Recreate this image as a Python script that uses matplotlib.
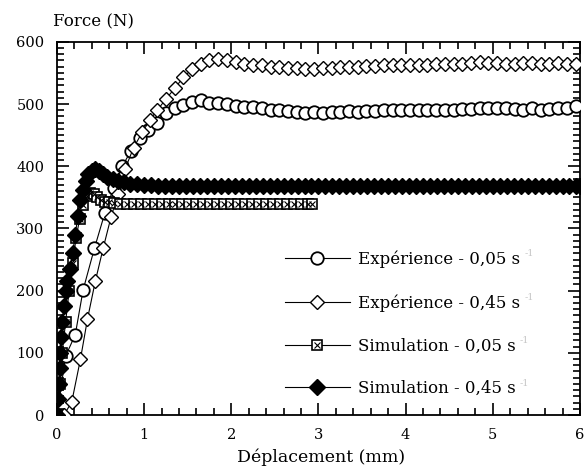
import numpy as np
import matplotlib
matplotlib.use("Agg")
from matplotlib import pyplot as plt
from matplotlib.legend_handler import HandlerTuple
from matplotlib.ticker import MultipleLocator

plt.rcParams['font.family'] = ['DejaVu Serif']

# Experience - 0,05 s-1 (open circles)
exp05_x = [0.0, 0.1, 0.21, 0.3, 0.43, 0.55, 0.65, 0.75, 0.85, 0.95, 1.05, 1.15,
           1.25, 1.35, 1.45, 1.55, 1.65, 1.75, 1.85, 1.95, 2.05, 2.15, 2.25,
           2.35, 2.45, 2.55, 2.65, 2.75, 2.85, 2.95, 3.05, 3.15, 3.25, 3.35,
           3.45, 3.55, 3.65, 3.75, 3.85, 3.95, 4.05, 4.15, 4.25, 4.35, 4.45,
           4.55, 4.65, 4.75, 4.85, 4.95, 5.05, 5.15, 5.25, 5.35, 5.45, 5.55,
           5.65, 5.75, 5.85, 5.95]
exp05_y = [0, 95, 129, 201, 268, 325, 365, 400, 425, 445, 458, 470,
           485, 493, 498, 503, 506, 502, 501, 500, 497, 496, 495,
           493, 491, 490, 489, 487, 486, 487, 486, 487, 487, 488,
           487, 488, 489, 490, 490, 490, 490, 491, 490, 491, 491,
           490, 492, 492, 494, 493, 493, 494, 492, 491, 493, 491,
           492, 494, 494, 497]

# Experience - 0,45 s-1 (open diamonds)
exp45_x = [0.08, 0.17, 0.27, 0.35, 0.44, 0.53, 0.62, 0.7, 0.78, 0.88, 0.98,
           1.07, 1.15, 1.25, 1.35, 1.45, 1.55, 1.65, 1.75, 1.85, 1.95, 2.05,
           2.15, 2.25, 2.35, 2.45, 2.55, 2.65, 2.75, 2.85, 2.95, 3.05, 3.15,
           3.25, 3.35, 3.45, 3.55, 3.65, 3.75, 3.85, 3.95, 4.05, 4.15, 4.25,
           4.35, 4.45, 4.55, 4.65, 4.75, 4.85, 4.95, 5.05, 5.15, 5.25, 5.35,
           5.45, 5.55, 5.65, 5.75, 5.85, 5.95]
exp45_y = [0, 21, 90, 154, 215, 268, 318, 355, 395, 430, 455,
           475, 490, 508, 525, 543, 556, 565, 571, 573, 570, 567,
           565, 563, 562, 560, 559, 558, 558, 557, 557, 558, 558,
           559, 560, 560, 561, 561, 562, 562, 562, 563, 563, 563,
           564, 564, 565, 565, 566, 567, 566, 566, 565, 565, 566,
           566, 565, 565, 566, 565, 564]

# Simulation - 0,05 s-1 (crossed squares)
sim05_x = [0.0, 0.03, 0.06, 0.1, 0.14, 0.18, 0.22, 0.26, 0.3, 0.34, 0.38,
           0.42, 0.46, 0.5, 0.55, 0.6, 0.65, 0.72, 0.8, 0.88, 0.96, 1.04,
           1.12, 1.2, 1.28, 1.36, 1.44, 1.52, 1.6, 1.68, 1.76, 1.84, 1.92,
           2.0, 2.08, 2.16, 2.24, 2.32, 2.4, 2.48, 2.56, 2.64, 2.72, 2.8,
           2.88, 2.93]
sim05_y = [0, 50, 100, 150, 200, 245, 285, 315, 338, 352, 357,
           355, 350, 345, 343, 342, 341, 340, 340, 340, 340, 340,
           340, 340, 340, 340, 340, 340, 340, 340, 340, 340, 340,
           340, 340, 340, 340, 340, 340, 340, 340, 340, 340, 340,
           340, 340]

# Simulation - 0,45 s-1 (filled diamonds)
sim45_x = [0.0, 0.01, 0.02, 0.03, 0.04, 0.05, 0.06, 0.08, 0.1, 0.12, 0.15,
           0.18, 0.21, 0.24, 0.27, 0.3, 0.33, 0.36, 0.4, 0.44, 0.48, 0.53,
           0.58, 0.64, 0.7, 0.77, 0.84, 0.92, 1.0, 1.08, 1.16, 1.24, 1.32,
           1.4, 1.48, 1.56, 1.64, 1.72, 1.8, 1.88, 1.96, 2.04, 2.12, 2.2,
           2.28, 2.36, 2.44, 2.52, 2.6, 2.68, 2.76, 2.84, 2.92, 3.0, 3.08,
           3.16, 3.24, 3.32, 3.4, 3.48, 3.56, 3.64, 3.72, 3.8, 3.88, 3.96,
           4.04, 4.12, 4.2, 4.28, 4.36, 4.44, 4.52, 4.6, 4.68, 4.76, 4.84,
           4.92, 5.0, 5.08, 5.16, 5.24, 5.32, 5.4, 5.48, 5.56, 5.64, 5.72,
           5.8, 5.88, 5.96, 6.0]
sim45_y = [0, 25, 50, 75, 100, 125, 150, 175, 200, 215, 235,
           260, 290, 320, 345, 362, 377, 387, 393, 395, 392, 388,
           383, 379, 376, 374, 372, 371, 370, 370, 369, 369, 369,
           369, 369, 369, 369, 369, 369, 369, 369, 369, 369, 369,
           369, 369, 369, 369, 369, 369, 369, 369, 369, 369, 369,
           369, 369, 369, 369, 369, 369, 369, 369, 369, 369, 369,
           369, 369, 369, 369, 369, 369, 369, 369, 369, 369, 369,
           369, 369, 369, 369, 369, 369, 369, 369, 369, 369, 369,
           369, 369, 369, 369]

labels = ['Expérience - 0,05 s', 'Expérience - 0,45 s',
          'Simulation - 0,05 s', 'Simulation - 0,45 s']

fig = plt.figure(figsize=(5.87, 4.70), dpi=100)
ax = fig.add_axes([0.097, 0.117, 0.891, 0.794])

h1, = ax.plot(exp05_x, exp05_y, '-', color='black', lw=0.8, marker='o',
              ms=9, mfc='white', mec='black', mew=1.3, zorder=3)
h2, = ax.plot(exp45_x, exp45_y, '-', color='black', lw=0.8, marker='D',
              ms=7, mfc='white', mec='black', mew=1.0, zorder=4)
h3a, = ax.plot(sim05_x, sim05_y, '-', color='black', lw=0.8, marker='s',
               ms=6.5, mfc='white', mec='black', mew=1.2, zorder=5)
h3b, = ax.plot(sim05_x, sim05_y, ls='none', marker='x', ms=4,
               mec='black', mew=0.8, zorder=6)
h4, = ax.plot(sim45_x, sim45_y, '-', color='black', lw=0.8, marker='D',
              ms=8, mfc='black', mec='black', zorder=7)

ax.set_xlim(0, 6)
ax.set_ylim(0, 600)
ax.xaxis.set_major_locator(MultipleLocator(1))
ax.xaxis.set_minor_locator(MultipleLocator(0.2))
ax.yaxis.set_major_locator(MultipleLocator(100))
ax.yaxis.set_minor_locator(MultipleLocator(10))
ax.tick_params(which='both', direction='in', top=True, right=True,
               width=1.2, labelsize=10.5)
ax.tick_params(which='major', length=8.5, pad=9)
ax.tick_params(which='minor', length=5)
for s in ax.spines.values():
    s.set_linewidth(1.3)

fig.text(53 / 587, 1 - 22 / 470, 'Force (N)', fontsize=12,
         ha='left', va='center')
fig.text(321 / 587, 1 - 457 / 470, 'Déplacement (mm)', fontsize=12.5,
         ha='center', va='center')

leg = ax.legend([h1, h2, (h3a, h3b), h4], labels,
                handler_map={tuple: HandlerTuple(ndivide=1, pad=0)},
                loc='upper left', bbox_to_anchor=(0.436, 0.44),
                frameon=False, fontsize=12, labelspacing=1.55,
                handlelength=3.9, handletextpad=0.5, borderaxespad=0,
                borderpad=0)

fig.canvas.draw()
W, H = fig.bbox.width, fig.bbox.height
for t in leg.get_texts():
    bb = t.get_window_extent()
    fig.text((bb.x1 + 4) / W, (bb.y1 - 3) / H, '-1', fontsize=7,
             color='#c8c8c8', ha='left', va='center')

fig.savefig('out.png', dpi=100)
